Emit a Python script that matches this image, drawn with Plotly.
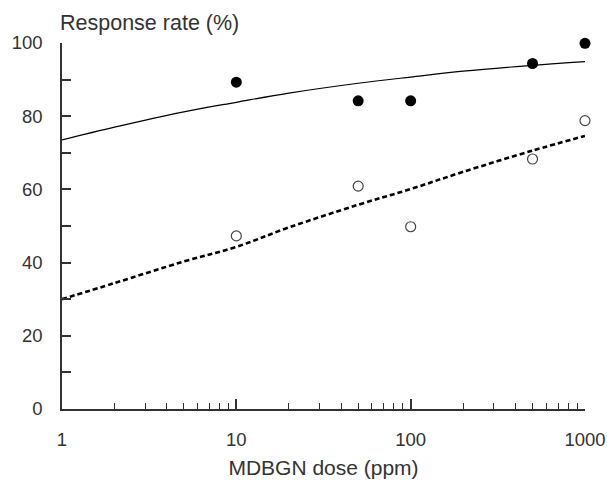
import plotly.graph_objects as go

# Observed data
dose = [10, 50, 100, 500, 1000]
resp_filled = [89.3, 84.2, 84.2, 94.4, 99.9]
resp_open = [47.3, 60.9, 49.8, 68.3, 78.8]

# Fitted curves
curve_dose = [1, 2, 5, 10, 20, 50, 100, 200, 500, 1000]
curve_solid = [73.5, 77.0, 81.2, 83.8, 86.3, 89.0, 90.7, 92.3, 93.9, 94.9]
curve_dashed = [30.0, 34.4, 40.3, 44.3, 49.6, 55.8, 60.1, 64.8, 70.6, 74.6]

x_ticks = [1, 10, 100, 1000]
x_minor = [m * d for d in [1, 10, 100] for m in range(2, 10)]
y_ticks = [0, 20, 40, 60, 80, 100]

FONT = "Liberation Sans, Arial, sans-serif"

fig = go.Figure()
fig.add_trace(go.Scatter(x=curve_dose, y=curve_solid, mode="lines",
                         line=dict(color="black", width=1.2, shape="spline"),
                         hoverinfo="skip", showlegend=False))
fig.add_trace(go.Scatter(x=curve_dose, y=curve_dashed, mode="lines",
                         line=dict(color="black", width=2.6, dash="5px,3px", shape="spline"),
                         hoverinfo="skip", showlegend=False))
fig.add_trace(go.Scatter(x=dose, y=resp_filled, mode="markers",
                         marker=dict(color="black", size=11, line=dict(width=0)),
                         cliponaxis=False, showlegend=False))
fig.add_trace(go.Scatter(x=dose, y=resp_open, mode="markers",
                         marker=dict(color="white", size=10, line=dict(color="#444", width=1.2)),
                         cliponaxis=False, showlegend=False))

fig.update_layout(
    width=607, height=489,
    margin=dict(l=62, r=22, t=43, b=80),
    paper_bgcolor="white", plot_bgcolor="white",
    font=dict(family=FONT, size=18.5, color="#333"),
    xaxis=dict(type="log", range=[0, 3], tickvals=x_ticks, ticktext=[str(v) for v in x_ticks],
               ticks="inside", ticklen=10, tickwidth=1.5, tickcolor="#333",
               showline=True, linecolor="#333", linewidth=1.5, showgrid=False, zeroline=False,
               ticklabelstandoff=13, automargin=False,
               minor=dict(tickvals=x_minor, ticks="inside", ticklen=6, tickwidth=1.2,
                          tickcolor="#333", showgrid=False),
               title=dict(text="MDBGN dose (ppm)", standoff=11, font=dict(size=21))),
    yaxis=dict(range=[0, 100], tickvals=y_ticks,
               ticks="inside", ticklen=9, tickwidth=1.5, tickcolor="#333",
               showline=True, linecolor="#333", linewidth=1.5, showgrid=False, zeroline=False,
               ticklabelstandoff=14, automargin=False,
               minor=dict(dtick=10, ticks="inside", ticklen=9, tickwidth=1.5,
                          tickcolor="#333", showgrid=False)),
    annotations=[dict(text="Response rate (%)", x=0, xref="paper", xanchor="left",
                      y=1, yref="paper", yanchor="bottom", yshift=6, xshift=-4,
                      showarrow=False, font=dict(size=21.5, color="#333"))],
)

fig.write_html("out.html", config={"displayModeBar": False},
               post_script="document.body.style.margin='0';document.body.style.overflow='hidden';")
